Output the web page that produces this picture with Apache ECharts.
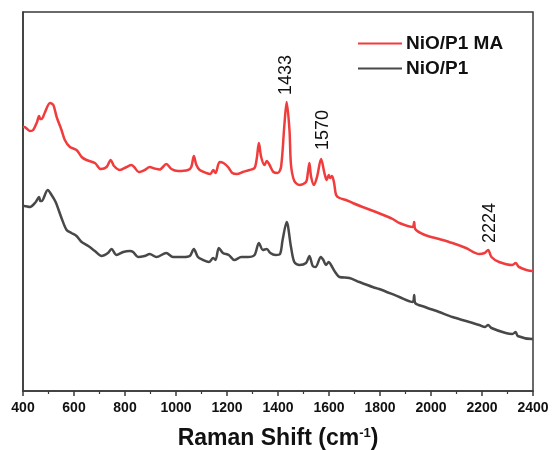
<!DOCTYPE html>
<html><head><meta charset="utf-8">
<script src="https://cdn.jsdelivr.net/npm/echarts@6/dist/echarts.min.js"></script>
<style>html,body{margin:0;padding:0;background:#fff}#c{width:552px;height:450px}</style>
</head><body><div id="c"></div>
<script>
// Raman shift (cm-1) and relative intensity (arbitrary units)
const redShift = [400,405,427,440,455,463,468,473,485,506,519,532,551,564,584,610,630,649,682,705,728,744,757,780,806,825,836,854,877,897,916,936,962,982,1008,1047,1060,1070,1080,1093,1119,1135,1146,1155,1171,1186,1204,1221,1239,1262,1288,1308,1317,1325,1334,1347,1356,1367,1382,1399,1412,1425,1434,1445,1451,1464,1484,1510,1517,1523,1530,1541,1553,1569,1582,1591,1599,1605,1612,1620,1628,1641,1667,1693,1732,1784,1823,1850,1876,1928,1934,1938,1976,2032,2084,2137,2189,2210,2224,2237,2267,2319,2332,2345,2397,2400];
const redPix = [127,127,131,130,122,116,119,119,113,103,105,117,130,140,147,150,157,160,163,169,167,160,166,170,167,165,167,172,170,167,168.5,169.5,164,169,171,170,167,156,165,170,173,174,170,173,162,163,167,173,174,172,170,168,158,143,157,165,161,165,172,173,167,125,102,130,165,181,185,182,173,163,177,185,177,159,173,180,175,178,176,183,195,198,200,203,207,212,216,219,223,227,222,229,235,239,243,248,254,253,250,257,262,265,263,267,271,271];
const greyShift = [400,405,427,450,463,468,473,497,512,528,551,571,590,610,630,656,682,708,733,747,767,793,819,832,851,877,897,923,962,988,1028,1054,1070,1086,1106,1129,1146,1155,1168,1184,1207,1229,1256,1282,1308,1325,1341,1356,1370,1390,1408,1418,1434,1451,1464,1484,1510,1523,1536,1547,1568,1578,1588,1599,1608,1624,1641,1680,1719,1771,1797,1876,1928,1934,1938,1976,2032,2084,2137,2189,2212,2224,2237,2293,2319,2332,2340,2397,2400];
const greyPix = [206,206,207,202,197,201,201,190,195,202,218,230,233,236,242,246,251,256,253,249,255,252,251,252,257,256,254,257,253,257,257,256,249,257,260,262,258,260,248,253,255,260,257,257,255,243,250,249,253,255,254,240,222,247,262,265,263,256,266,267,257,260,265,262,265,272,277,278,282,287,289,297,302,295,303,307,312,317,321,325,327,325,328,333,334,332,336,339,339];
// intensity = baseline-referenced value
const BASE = 391;
const redI = redPix.map(v => BASE - v);
const greyI = greyPix.map(v => BASE - v);
const seriesNames = ['NiO/P1 MA', 'NiO/P1'];
const peakLabels = [
  {text: '1433', x: 1433, y: 296},
  {text: '1570', x: 1578, y: 241},
  {text: '2224', x: 2232, y: 148}
];
const xTicks = {min: 400, max: 2400, interval: 200};

const chart = echarts.init(document.getElementById('c'));
const font = 'Liberation Sans, Arial, sans-serif';
chart.setOption({
  animation: false,
  grid: {left: 23, right: 19, top: 12, bottom: 59, show: true, borderColor: '#3a3a3a', borderWidth: 1.5,
    containLabel: false, outerBoundsMode: 'none'},
  legend: {
    orient: 'vertical', left: 353, top: 29, itemGap: 6, itemWidth: 44, itemHeight: 19,
    icon: 'path://M0,8 L44,8 L44,10 L0,10 Z',
    textStyle: {fontFamily: font, fontWeight: 'bold', fontSize: 19, color: '#111', padding: [0, 0, 0, -1]},
    data: seriesNames
  },
  xAxis: {
    type: 'value', min: xTicks.min, max: xTicks.max, interval: xTicks.interval,
    axisLine: {show: true, onZero: false, lineStyle: {color: '#3a3a3a', width: 1.5}},
    axisTick: {show: true, inside: false, length: 5, lineStyle: {color: '#3a3a3a', width: 1.5}},
    minorTick: {show: true, splitNumber: 2, length: 3, lineStyle: {color: '#3a3a3a', width: 1.2}},
    splitLine: {show: false},
    axisLabel: {fontFamily: font, fontWeight: 'bold', fontSize: 14, color: '#111', margin: 10, formatter: v => String(v)},
    name: '{a|Raman Shift (cm}{s|-1}{a|)}', nameLocation: 'middle', nameGap: 36,
    nameTextStyle: {
      rich: {
        a: {fontFamily: font, fontWeight: 'bold', fontSize: 23, color: '#111'},
        s: {fontFamily: font, fontWeight: 'bold', fontSize: 13, color: '#111', padding: [0, 0, 11, 0]}
      }
    }
  },
  yAxis: {
    type: 'value', min: 0, max: 379,
    axisLine: {show: true, lineStyle: {color: '#3a3a3a', width: 1.5}},
    axisTick: {show: false}, axisLabel: {show: false}, splitLine: {show: false}
  },
  series: [
    {
      name: seriesNames[0], type: 'line', symbol: 'none', smooth: 0.3,
      data: redShift.map((x, i) => [x, redI[i]]),
      lineStyle: {color: '#F03C3C', width: 2.5}, itemStyle: {color: '#F03C3C'},
      markPoint: {
        symbol: 'circle', symbolSize: 0,
        data: peakLabels.map(p => ({coord: [p.x, p.y], value: p.text})),
        label: {show: true, formatter: '{c}', rotate: 90, position: [0, 0], align: 'left', verticalAlign: 'middle',
          fontFamily: font, fontSize: 18, color: '#111'}
      }
    },
    {
      name: seriesNames[1], type: 'line', symbol: 'none', smooth: 0.3,
      data: greyShift.map((x, i) => [x, greyI[i]]),
      lineStyle: {color: '#484848', width: 2.5}, itemStyle: {color: '#484848'}
    }
  ]
});
</script></body></html>
